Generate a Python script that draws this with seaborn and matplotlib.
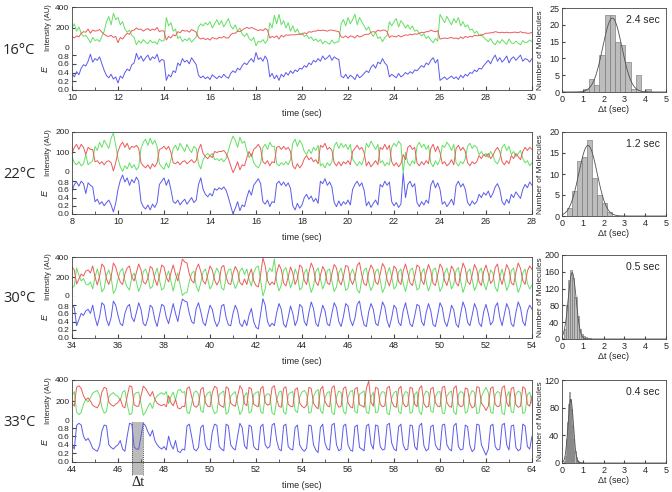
import numpy as np
import pandas as pd
import matplotlib
matplotlib.use('Agg')
import matplotlib.pyplot as plt
import matplotlib.transforms as mtransforms
import seaborn as sns

# ---------------- data ----------------
temps = ['16°C', '22°C', '30°C', '33°C']
t_starts = [10, 8, 34, 44]
dt_step = 0.1

# FRET efficiency traces (x100), one value every 0.1 sec
e16 = [38, 30, 42, 35, 50, 58, 55, 66, 82, 64, 72, 68, 76, 60, 45, 33, 28, 36, 25, 30,
       16, 32, 27, 40, 48, 44, 58, 62, 84, 70, 78, 66, 74, 80, 68, 76, 72, 82, 64, 70,
       68, 22, 35, 30, 44, 40, 62, 56, 72, 64, 68, 60, 74, 66, 58, 34, 28, 32, 26, 30,
       24, 35, 30, 26, 32, 28, 36, 30, 27, 38, 44, 40, 50, 46, 56, 62, 58, 66, 72, 64,
       86, 70, 74, 66, 78, 68, 30, 38, 26, 34, 22, 36, 30, 40, 34, 44, 38, 46, 42, 50,
       48, 56, 52, 62, 58, 68, 64, 72, 66, 78, 70, 74, 80, 68, 76, 72, 70, 32, 28, 36,
       26, 34, 30, 24, 36, 28, 32, 38, 44, 40, 52, 58, 50, 64, 60, 72, 62, 56, 30, 36,
       32, 28, 38, 30, 34, 40, 36, 42, 38, 46, 44, 50, 56, 52, 62, 58, 68, 74, 62, 70,
       22, 26, 30, 24, 28, 32, 26, 30, 24, 34, 28, 36, 32, 40, 38, 46, 42, 50, 48, 56,
       62, 68, 60, 72, 80, 66, 74, 64, 70, 78, 62, 72, 76, 68, 74, 80, 66, 72, 70, 64,
       72]
g16 = [200, 240, 170, 210, 150, 120, 130, 100, 60, 110, 80, 90, 70, 120, 170, 260, 310, 230, 340, 280,
       300, 230, 260, 190, 160, 180, 130, 110, 40, 80, 55, 90, 65, 50, 85, 60, 70, 45, 95, 75,
       80, 300, 220, 250, 170, 190, 100, 120, 70, 95, 80, 105, 65, 90, 115, 210, 240, 220, 250, 230,
       260, 200, 240, 280, 230, 270, 210, 250, 290, 220, 190, 230, 170, 200, 140, 120, 150, 100, 80, 110,
       30, 75, 65, 90, 55, 85, 250, 200, 320, 240, 330, 230, 270, 200, 250, 170, 220, 160, 190, 140,
       150, 120, 135, 100, 115, 80, 95, 70, 90, 50, 75, 60, 45, 85, 55, 65, 70, 240, 280, 220,
       300, 240, 280, 330, 230, 300, 260, 220, 180, 210, 150, 120, 160, 100, 115, 70, 110, 130, 260, 220,
       260, 290, 210, 270, 240, 200, 230, 190, 220, 170, 180, 150, 125, 145, 100, 120, 85, 60, 100, 75,
       330, 290, 250, 310, 270, 230, 290, 250, 300, 220, 260, 210, 230, 180, 190, 150, 170, 130, 140, 110,
       90, 70, 100, 60, 40, 80, 55, 90, 65, 45, 95, 60, 50, 75, 55, 40, 80, 60, 65, 85,
       70]
r16 = [120, 105, 125, 115, 150, 165, 160, 190, 150, 180, 170, 175, 185, 160, 140, 125, 120, 130, 110, 120,
       60, 110, 95, 125, 150, 140, 175, 180, 200, 185, 190, 170, 185, 195, 175, 190, 180, 205, 165, 175,
       170, 85, 120, 105, 135, 125, 165, 155, 180, 170, 175, 160, 185, 175, 160, 110, 95, 105, 90, 100,
       85, 110, 100, 95, 110, 105, 120, 105, 105, 135, 150, 150, 170, 165, 180, 195, 205, 195, 205, 195,
       185, 175, 185, 175, 195, 180, 105, 120, 110, 125, 95, 130, 115, 135, 130, 135, 135, 135, 140, 140,
       140, 155, 145, 165, 160, 170, 170, 180, 175, 180, 175, 170, 180, 180, 175, 170, 165, 115, 110, 125,
       105, 125, 120, 105, 130, 115, 120, 135, 140, 140, 160, 165, 160, 180, 170, 180, 180, 165, 110, 125,
       120, 115, 130, 115, 125, 135, 130, 140, 135, 145, 140, 150, 160, 155, 165, 165, 180, 170, 165, 175,
       95, 100, 105, 100, 105, 110, 100, 105, 95, 115, 100, 120, 110, 120, 115, 130, 125, 130, 130, 140,
       150, 150, 155, 155, 165, 160, 155, 160, 155, 160, 155, 155, 160, 160, 155, 165, 155, 155, 150, 150,
       160]

e22 = [55, 72, 78, 68, 80, 74, 50, 76, 70, 66, 30, 36, 24, 30, 20, 28, 34, 22, 5, 26,
       60, 82, 95, 78, 88, 70, 84, 76, 90, 80, 30, 18, 12, 22, 10, 24, 16, 28, 72, 80,
       88, 70, 84, 60, 30, 26, 34, 22, 30, 36, 24, 32, 40, 28, 34, 72, 88, 60, 48, 42,
       50, 44, 62, 58, 64, 60, 66, 58, 40, 20, 0, 14, 30, 8, 22, 18, 40, 58, 46, 70,
       78, 86, 74, 30, 24, 34, 18, 30, 28, 74, 80, 70, 78, 68, 76, 62, 20, 10, 26, 14,
       22, 40, 48, 36, 44, 30, 38, 26, 80, 74, 86, 70, 78, 66, 28, 18, 32, 20, 30, 24,
       34, 22, 60, 72, 80, 68, 76, 58, 20, 30, 16, 26, 34, 22, 72, 66, 80, 70, 78, 30,
       20, 28, 16, 24, 100, 40, 72, 80, 66, 74, 28, 18, 30, 22, 34, 26, 70, 82, 64, 76,
       60, 24, 30, 18, 26, 36, 22, 70, 80, 66, 74, 60, 28, 20, 32, 24, 30, 48, 40, 52,
       46, 56, 40, 50, 66, 74, 60, 30, 22, 36, 26, 48, 40, 54, 46, 38, 60, 72, 64, 78,
       70]
g22 = [80, 50, 40, 55, 35, 45, 90, 40, 50, 60, 130, 110, 150, 125, 160, 140, 120, 170, 195, 135,
       70, 30, 8, 35, 20, 50, 25, 40, 15, 30, 120, 150, 165, 135, 170, 140, 160, 130, 45, 30,
       18, 50, 25, 65, 120, 135, 110, 145, 125, 105, 140, 115, 100, 130, 120, 45, 20, 65, 85, 95,
       85, 95, 65, 70, 60, 70, 55, 70, 110, 150, 180, 160, 125, 175, 145, 155, 110, 75, 95, 50,
       35, 25, 45, 125, 140, 115, 150, 130, 130, 45, 35, 50, 40, 55, 40, 65, 145, 165, 130, 160,
       140, 105, 90, 115, 95, 125, 110, 135, 35, 45, 25, 50, 35, 55, 130, 150, 120, 145, 125, 140,
       115, 140, 70, 50, 35, 55, 40, 75, 145, 125, 155, 135, 115, 140, 50, 60, 35, 50, 40, 125,
       145, 130, 155, 140, 0, 100, 50, 35, 60, 45, 130, 150, 125, 140, 115, 135, 50, 30, 60, 40,
       65, 135, 125, 150, 135, 110, 140, 50, 35, 55, 45, 70, 130, 145, 120, 135, 125, 90, 105, 85,
       95, 75, 105, 85, 55, 45, 70, 125, 140, 110, 130, 90, 105, 80, 95, 110, 70, 50, 60, 35,
       50]
r22 = [95, 125, 140, 115, 140, 125, 90, 125, 115, 115, 55, 60, 45, 55, 40, 55, 60, 50, 10, 50,
       105, 135, 150, 125, 145, 115, 130, 125, 135, 120, 50, 35, 25, 40, 20, 45, 30, 50, 115, 120,
       130, 115, 130, 100, 50, 45, 55, 40, 55, 60, 45, 55, 65, 50, 60, 115, 140, 95, 80, 70,
       85, 75, 105, 100, 105, 105, 110, 95, 70, 35, 2, 25, 55, 15, 40, 35, 75, 105, 80, 115,
       125, 140, 120, 55, 45, 60, 35, 55, 50, 125, 130, 115, 130, 115, 125, 105, 35, 20, 45, 25,
       40, 70, 85, 65, 75, 55, 65, 45, 135, 125, 145, 115, 125, 110, 50, 35, 55, 35, 55, 45,
       60, 40, 105, 120, 135, 115, 125, 100, 35, 55, 30, 45, 60, 40, 125, 115, 140, 115, 135, 55,
       35, 50, 30, 45, 90, 65, 125, 135, 115, 125, 50, 35, 55, 40, 60, 45, 120, 140, 105, 130,
       100, 45, 55, 35, 45, 65, 40, 120, 135, 110, 125, 105, 50, 35, 55, 45, 55, 85, 70, 90,
       80, 95, 70, 85, 110, 125, 105, 55, 40, 60, 45, 85, 70, 95, 80, 65, 105, 125, 110, 125,
       115]

e30 = [80, 74, 30, 45, 60, 55, 66, 70, 60, 80, 50, 30, 52, 86, 80, 45, 30, 50, 90, 80,
       55, 35, 30, 60, 76, 82, 50, 40, 62, 86, 70, 35, 30, 48, 80, 74, 45, 28, 55, 82,
       78, 50, 35, 60, 84, 60, 40, 70, 95, 90, 88, 60, 40, 35, 72, 86, 64, 38, 30, 56,
       80, 70, 42, 28, 40, 78, 82, 50, 32, 30, 60, 80, 66, 35, 28, 44, 30, 56, 72, 40,
       26, 22, 58, 96, 80, 40, 28, 36, 30, 62, 84, 70, 34, 26, 50, 78, 60, 30, 44, 82,
       76, 40, 30, 62, 88, 72, 36, 28, 55, 80, 66, 34, 30, 60, 86, 74, 40, 28, 52, 84,
       78, 44, 30, 48, 82, 90, 56, 32, 28, 64, 84, 70, 36, 30, 58, 88, 76, 42, 26, 50,
       80, 72, 38, 30, 66, 86, 60, 34, 28, 54, 82, 78, 40, 30, 62, 84, 66, 32, 28, 56,
       86, 74, 40, 28, 50, 80, 68, 34, 26, 60, 88, 72, 38, 30, 56, 84, 70, 36, 28, 64,
       82, 60, 32, 40, 76, 86, 50, 30, 58, 84, 70, 34, 28, 62, 88, 74, 40, 30, 66, 80,
       70]
g30 = [90, 110, 290, 220, 160, 185, 130, 120, 150, 80, 200, 280, 190, 50, 85, 220, 270, 200, 35, 75,
       180, 260, 285, 160, 100, 70, 200, 240, 150, 55, 120, 255, 280, 210, 85, 105, 220, 290, 175, 70,
       90, 200, 260, 160, 60, 165, 240, 120, 15, 40, 45, 155, 235, 260, 110, 55, 145, 250, 280, 180,
       80, 120, 230, 290, 240, 90, 70, 200, 270, 280, 160, 85, 135, 260, 290, 225, 280, 175, 110, 240,
       295, 310, 170, 10, 80, 240, 290, 255, 380, 150, 60, 120, 265, 295, 200, 90, 160, 280, 225, 70,
       95, 240, 280, 150, 45, 110, 255, 290, 180, 80, 140, 265, 280, 160, 55, 100, 240, 290, 190, 65,
       90, 225, 280, 210, 70, 40, 175, 270, 290, 145, 65, 120, 255, 280, 170, 45, 95, 230, 295, 200,
       80, 110, 250, 280, 135, 55, 160, 265, 290, 185, 70, 90, 240, 285, 150, 60, 135, 270, 290, 175,
       55, 105, 240, 290, 200, 80, 130, 265, 295, 160, 45, 115, 250, 280, 175, 65, 120, 255, 290, 145,
       70, 160, 270, 240, 95, 55, 200, 280, 170, 65, 120, 265, 290, 150, 45, 105, 240, 280, 135, 80,
       120]
r30 = [300, 270, 130, 180, 230, 210, 260, 270, 240, 310, 200, 120, 210, 330, 300, 180, 125, 200, 340, 300,
       215, 150, 125, 230, 290, 310, 200, 160, 245, 330, 270, 150, 130, 190, 305, 285, 180, 115, 210, 320,
       300, 200, 150, 240, 320, 230, 160, 270, 380, 350, 340, 230, 165, 140, 280, 330, 255, 160, 130, 220,
       310, 270, 170, 120, 165, 300, 315, 200, 135, 125, 235, 305, 260, 145, 120, 180, 125, 220, 280, 160,
       115, 100, 225, 390, 310, 165, 120, 150, 125, 245, 325, 275, 140, 110, 200, 300, 240, 125, 180, 320,
       295, 165, 125, 245, 340, 285, 150, 115, 215, 305, 260, 140, 125, 235, 325, 290, 165, 120, 205, 315,
       305, 180, 125, 190, 315, 345, 220, 130, 115, 250, 320, 275, 150, 125, 230, 335, 295, 170, 110, 200,
       310, 280, 155, 125, 260, 330, 240, 140, 115, 210, 320, 300, 165, 125, 245, 325, 260, 135, 115, 220,
       330, 290, 165, 115, 200, 310, 270, 140, 110, 235, 340, 285, 155, 125, 220, 325, 275, 150, 115, 255,
       320, 235, 135, 165, 295, 330, 200, 125, 225, 325, 275, 140, 120, 245, 340, 285, 165, 125, 260, 310,
       275]

e33 = [40, 30, 85, 90, 86, 60, 50, 55, 45, 32, 28, 25, 38, 72, 86, 84, 40, 34, 30, 36,
       40, 50, 30, 25, 60, 90, 88, 35, 30, 30, 60, 90, 84, 70, 60, 74, 50, 40, 34, 30,
       36, 28, 60, 40, 30, 50, 25, 22, 30, 28, 84, 88, 60, 30, 26, 34, 80, 86, 40, 30,
       28, 70, 88, 85, 36, 30, 26, 88, 84, 40, 32, 28, 60, 90, 80, 38, 30, 86, 82, 36,
       30, 28, 82, 88, 40, 32, 36, 86, 90, 50, 30, 26, 84, 88, 36, 30, 28, 80, 86, 40,
       30, 25, 32, 86, 84, 40, 28, 22, 80, 88, 44, 30, 28, 86, 90, 40, 26, 30, 84, 88,
       40, 28, 25, 82, 86, 34, 30, 26, 84, 88, 42, 30, 86, 84, 36, 28, 30, 86, 90, 44,
       30, 26, 82, 88, 40, 28, 30, 86, 84, 36, 28, 84, 90, 38, 26, 30, 82, 86, 40, 30,
       28, 86, 88, 40, 30, 26, 84, 90, 36, 28, 30, 86, 82, 38, 24, 30, 88, 86, 40, 28,
       16, 30, 84, 88, 36, 28, 30, 86, 90, 40, 28, 84, 86, 34, 26, 30, 88, 84, 36, 30,
       60]
g33 = [250, 290, 95, 70, 90, 170, 215, 190, 230, 275, 290, 300, 255, 140, 85, 100, 240, 265, 280, 255,
       245, 205, 285, 300, 170, 70, 80, 260, 280, 285, 175, 65, 95, 145, 180, 130, 210, 250, 265, 280,
       260, 290, 175, 240, 285, 210, 300, 310, 280, 290, 95, 80, 170, 280, 295, 265, 110, 90, 240, 275,
       290, 140, 80, 95, 260, 280, 295, 75, 95, 245, 270, 290, 175, 70, 110, 250, 280, 85, 100, 260,
       280, 290, 100, 80, 245, 270, 260, 85, 70, 210, 285, 295, 95, 75, 260, 280, 290, 110, 90, 240,
       285, 300, 270, 85, 95, 245, 290, 310, 110, 80, 230, 280, 290, 90, 70, 240, 295, 280, 100, 75,
       240, 290, 300, 100, 85, 265, 280, 295, 95, 80, 235, 285, 90, 95, 260, 290, 280, 85, 70, 230,
       280, 295, 100, 80, 245, 290, 280, 85, 95, 260, 290, 95, 70, 255, 295, 280, 105, 90, 240, 285,
       290, 85, 80, 245, 280, 295, 95, 70, 260, 290, 280, 85, 100, 255, 300, 280, 80, 90, 240, 290,
       330, 280, 95, 80, 260, 290, 280, 85, 70, 245, 290, 95, 90, 265, 295, 280, 80, 95, 260, 285,
       175]
r33 = [180, 150, 330, 345, 320, 250, 210, 230, 200, 160, 145, 135, 175, 285, 330, 320, 190, 165, 150, 170,
       185, 220, 150, 135, 245, 345, 335, 165, 150, 150, 250, 340, 320, 280, 245, 290, 215, 180, 165, 155,
       170, 145, 250, 185, 155, 215, 135, 125, 150, 145, 320, 335, 245, 155, 140, 165, 310, 330, 185, 150,
       145, 280, 340, 325, 170, 150, 140, 335, 320, 180, 160, 150, 245, 345, 310, 175, 155, 330, 315, 170,
       155, 145, 315, 340, 185, 160, 170, 330, 345, 215, 150, 140, 320, 335, 170, 150, 145, 310, 325, 180,
       150, 135, 160, 330, 320, 180, 145, 125, 310, 340, 195, 155, 145, 325, 345, 185, 140, 150, 320, 335,
       185, 145, 135, 315, 330, 165, 155, 140, 320, 390, 190, 150, 330, 320, 170, 145, 155, 325, 340, 195,
       150, 140, 315, 340, 180, 145, 155, 330, 320, 170, 145, 320, 345, 175, 140, 150, 315, 330, 185, 150,
       145, 330, 340, 185, 150, 140, 320, 345, 170, 145, 155, 325, 315, 175, 135, 150, 335, 330, 180, 150,
       110, 150, 320, 335, 170, 145, 155, 325, 345, 185, 145, 320, 330, 165, 140, 150, 335, 320, 170, 150,
       250]

E_traces = [e16, e22, e30, e33]
green_traces = [g16, g22, g30, g33]
red_traces = [r16, r22, r30, r33]
int_max = [400, 200, 400, 400]
int_ticks = [[0, 200, 400], [0, 100, 200], [0, 200, 400], [0, 200, 400]]
E_max = [0.94, 1.0, 1.0, 0.93]

# dwell time histograms: bin edges (sec) and counts
h16_edges = [1.05, 1.3, 1.55, 1.8, 2.05, 2.3, 2.55, 2.8, 3.05, 3.3, 3.55, 3.8, 4.05, 4.3]
h16_counts = [1, 4, 2, 11, 23, 23, 15, 14, 9, 1, 5, 0, 1]
h22_edges = [0.24, 0.48, 0.72, 0.96, 1.2, 1.44, 1.68, 1.92, 2.16, 2.4]
h22_counts = [2, 6, 13, 14, 18, 9, 5, 3, 1]
h30_edges = [0.0, 0.1, 0.2, 0.3, 0.4, 0.5, 0.6, 0.7, 0.8, 0.9, 1.0, 1.1, 1.2, 1.3, 1.4, 1.5, 1.6]
h30_counts = [2, 25, 80, 140, 165, 145, 100, 55, 25, 12, 8, 5, 3, 2, 1, 1]
h33_edges = [0.1, 0.15, 0.2, 0.25, 0.3, 0.35, 0.4, 0.45, 0.5, 0.55, 0.6, 0.65, 0.7, 0.75, 0.8,
             0.85, 0.9, 0.95]
h33_counts = [3, 10, 35, 60, 85, 103, 92, 78, 55, 35, 18, 8, 5, 3, 2, 1, 1]
hist_edges = [h16_edges, h22_edges, h30_edges, h33_edges]
hist_counts = [h16_counts, h22_counts, h30_counts, h33_counts]
hist_max = [25, 20, 200, 120]
hist_ticks = [[0, 5, 10, 15, 20, 25], [0, 5, 10, 15, 20], [0, 40, 80, 120, 160, 200], [0, 40, 80, 120]]
# gaussian fits: centre, height, width
fits = [(2.42, 22.0, 0.46), (1.25, 16.8, 0.44), (0.49, 158, 0.19), (0.42, 92, 0.13)]
dwell_labels = ['2.4 sec', '1.2 sec', '0.5 sec', '0.4 sec']

# example dwell window marked on the 33 C trace
dt_window = (46.63, 47.1)

# ---------------- plot ----------------
sns.set_style('ticks')
plt.rcParams['font.family'] = ['Liberation Sans', 'DejaVu Sans']
plt.rcParams['axes.linewidth'] = 0.6
plt.rcParams['axes.edgecolor'] = '#444444'

GREEN = '#62e062'
RED = '#ee5a5a'
BLUE = '#5a5aee'

W, H = 672, 492
fig = plt.figure(figsize=(W / 100, H / 100), dpi=100)


def px_rect(x0, y0, x1, y1):
    return [x0 / W, 1 - y1 / H, (x1 - x0) / W, (y1 - y0) / H]


def nudge(label, dy_pt):
    # shift a tick label vertically by a few points
    label.set_transform(label.get_transform() +
                        mtransforms.ScaledTranslation(0, dy_pt / 72, fig.dpi_scale_trans))


row_top = [7, 132, 257, 380]
row_mid = [49, 173, 297, 422]
row_bot = [90, 214, 338, 462]
hist_top = [8, 132, 255, 380]
hist_bot = [92, 216, 339, 463]

for i in range(4):
    t0 = t_starts[i]
    df = pd.DataFrame({'t': t0 + dt_step * np.arange(len(E_traces[i])),
                       'E': np.array(E_traces[i]) / 100.0})
    dg = pd.DataFrame({'t': t0 + dt_step * np.arange(len(green_traces[i])),
                       'I': green_traces[i]})
    dr = pd.DataFrame({'t': t0 + dt_step * np.arange(len(red_traces[i])),
                       'I': red_traces[i]})

    # intensity panel
    axI = fig.add_axes(px_rect(72, row_top[i], 532, row_mid[i]))
    sns.lineplot(data=dg, x='t', y='I', color=GREEN, lw=0.7, ax=axI)
    sns.lineplot(data=dr, x='t', y='I', color=RED, lw=0.7, ax=axI)
    axI.set_xlim(t0, t0 + 20)
    axI.set_ylim(0, int_max[i])
    axI.set_xticks([])
    axI.set_yticks(int_ticks[i])
    axI.set_xlabel('')
    axI.set_ylabel('Intensity (AU)', fontsize=5.5)
    axI.yaxis.set_label_coords(-0.043, 0.5)
    axI.tick_params(axis='y', direction='in', length=2, labelsize=6, pad=2, color='#444444')
    nudge(axI.get_yticklabels()[0], 1.2)

    # FRET panel
    axE = fig.add_axes(px_rect(72, row_mid[i], 532, row_bot[i]))
    sns.lineplot(data=df, x='t', y='E', color=BLUE, lw=0.7, ax=axE)
    axE.set_xlim(t0, t0 + 20)
    axE.set_ylim(0, E_max[i])
    axE.set_yticks([0, 0.2, 0.4, 0.6, 0.8])
    axE.set_yticklabels(['0.0', '0.2', '0.4', '0.6', '0.8'])
    axE.set_xticks(range(t0, t0 + 21, 2))
    axE.set_xticks(range(t0, t0 + 21, 1), minor=True)
    axE.spines['top'].set_visible(False)
    axE.tick_params(axis='y', which='major', direction='in', length=3, labelsize=6, pad=2,
                    color='#444444')
    axE.tick_params(axis='x', which='major', direction='in', length=3, labelsize=6.5, pad=2,
                    color='#444444')
    axE.tick_params(axis='x', which='minor', direction='in', length=2, color='#444444')
    nudge(axE.get_yticklabels()[-1], -0.8)
    axE.set_xlabel('time (sec)', fontsize=6.5, labelpad=5)
    axE.set_ylabel('E', fontsize=6.5, style='italic')
    axE.yaxis.set_label_coords(-0.048, 0.5)

    fig.text(3 / W, 1 - (row_mid[i] + 1) / H, temps[i], fontsize=10.5, va='center', ha='left',
             family=['Open Sans', 'DejaVu Sans'])

    if i == 3:
        trans = mtransforms.blended_transform_factory(axE.transData, axE.transAxes)
        axE.fill_between(list(dt_window), -0.33, 1.0, transform=trans, color='#b4b4b4',
                         alpha=0.9, lw=0, zorder=0.5, clip_on=False)
        for xv in dt_window:
            axE.plot([xv, xv], [-0.33, 1.0], transform=trans, color='#555555', lw=0.7,
                     ls=(0, (1, 1)), clip_on=False, zorder=0.6)
        fig.text(138 / W, 1 - 483 / H, 'Δt', fontsize=10.5, ha='center', va='center',
                 family=['Liberation Serif', 'DejaVu Serif'])

    # histogram panel
    axH = fig.add_axes(px_rect(562, hist_top[i], 666, hist_bot[i]))
    edges = list(hist_edges[i])
    dh = pd.DataFrame({'dwell': [(a + b) / 2 for a, b in zip(edges[:-1], edges[1:])],
                       'n': hist_counts[i]})
    sns.histplot(data=dh, x='dwell', weights='n', bins=edges, ax=axH, color='#bdbdbd',
                 edgecolor='#6e6e6e', linewidth=0.4, alpha=1)
    c, amp, w = fits[i]
    xs = np.linspace(0, 5, 400)
    axH.plot(xs, amp * np.exp(-0.5 * ((xs - c) / w) ** 2), color='#505050', lw=0.6)
    axH.set_xlim(0, 5)
    axH.set_ylim(0, hist_max[i])
    axH.set_xticks(range(0, 6))
    axH.set_yticks(hist_ticks[i])
    axH.tick_params(direction='in', length=2, labelsize=6.5, pad=2, color='#444444')
    axH.set_xlabel('Δt (sec)', fontsize=6.5, labelpad=1)
    axH.set_ylabel('Number of Molecules', fontsize=6)
    axH.yaxis.set_label_coords(-0.17, 0.5)
    axH.text(0.94, 0.86, dwell_labels[i], transform=axH.transAxes, ha='right', va='center',
             fontsize=7.5)

fig.savefig('out.png', dpi=100)
